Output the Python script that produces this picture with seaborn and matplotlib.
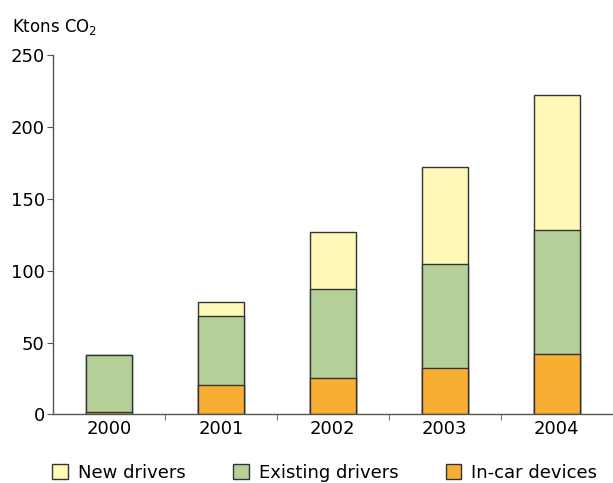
import pandas as pd
import matplotlib.pyplot as plt
from matplotlib.patches import Patch
import seaborn as sns

# Dane (kt CO2)
years = ['2000', '2001', '2002', '2003', '2004']
in_car = [1.5, 20.5, 25, 32, 42]
existing = [39.5, 48, 62, 72.5, 86]
new_drivers = [0.5, 10, 40, 67.5, 94]

series_names = ['New drivers', 'Existing drivers', 'In-car devices']
colors = {'New drivers': '#fff8b6', 'Existing drivers': '#b4cf98', 'In-car devices': '#f8ae32'}

df = pd.DataFrame({'Year': years, 'In-car devices': in_car,
                   'Existing drivers': existing, 'New drivers': new_drivers})
# skumulowane wysokości do słupków skumulowanych
df['top_incar'] = df['In-car devices']
df['top_existing'] = df['top_incar'] + df['Existing drivers']
df['top_new'] = df['top_existing'] + df['New drivers']

sns.set_style('white')
plt.rcParams['font.family'] = ['DejaVu Sans']
plt.rcParams['text.color'] = 'black'
plt.rcParams['xtick.color'] = 'black'
plt.rcParams['ytick.color'] = 'black'

fig = plt.figure(figsize=(6.13, 4.83), dpi=100)
ax = fig.add_axes([0.0865, 0.142, 0.913, 0.744])

for col, name in [('top_new', 'New drivers'), ('top_existing', 'Existing drivers'),
                  ('top_incar', 'In-car devices')]:
    sns.barplot(data=df, x='Year', y=col, color=colors[name], width=0.41,
                edgecolor='#333333', linewidth=1, saturation=1, ax=ax)

ax.set_xlim(-0.5, 4.5)
ax.set_ylim(0, 250)
ax.set_yticks([0, 50, 100, 150, 200, 250])
ax.set_xlabel('')
ax.set_ylabel('')
ax.set_xticks([0.5, 1.5, 2.5, 3.5], minor=True)
ax.tick_params(axis='x', which='major', length=0, labelsize=13, pad=4)
ax.tick_params(axis='x', which='minor', length=4, direction='out', color='#555555', bottom=True)
ax.tick_params(axis='y', length=4, direction='out', color='#555555', labelsize=13, left=True, pad=2)

sns.despine(ax=ax, top=True, right=True)
for s in ['left', 'bottom']:
    ax.spines[s].set_color('#555555')
    ax.spines[s].set_linewidth(1)

fig.text(12 / 613, 1 - 32 / 483, 'Ktons CO$_2$', fontsize=12, va='baseline')

handles = [Patch(facecolor=colors[n], edgecolor='#333333', linewidth=1) for n in series_names]
fig.legend(handles, series_names, loc='center', bbox_to_anchor=(0.53, 0.021), ncol=3,
           frameon=False, fontsize=13, handlelength=0.85, handleheight=0.85,
           handletextpad=0.55, columnspacing=2.65, borderpad=0)

plt.savefig('out.png', dpi=100)
